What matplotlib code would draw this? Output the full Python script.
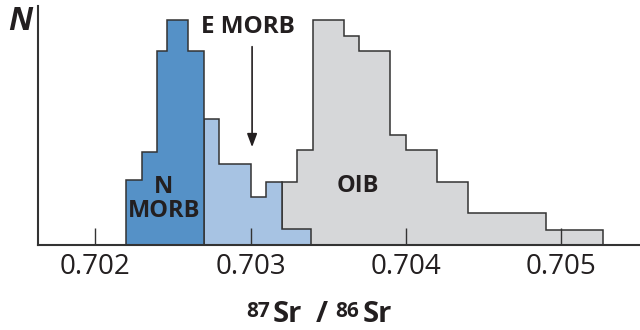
import matplotlib
matplotlib.use("Agg")
import matplotlib.pyplot as plt

# Histogram bin edges (87Sr/86Sr) and counts
nmorb_edges = [0.7022, 0.7023, 0.7024, 0.70246, 0.7026, 0.7027]
nmorb_counts = [4.1, 5.9, 12.3, 14.3, 12.3]
emorb_edges = [0.7027, 0.7028, 0.7030, 0.7031, 0.7032, 0.70339]
emorb_counts = [8.0, 5.1, 3.0, 4.0, 1.0]
oib_edges = [0.7032, 0.7033, 0.7034, 0.7036, 0.7037, 0.7039, 0.7040,
             0.7042, 0.7044, 0.7049, 0.70527]
oib_counts = [4.0, 6.0, 14.3, 13.3, 12.3, 7.0, 6.0, 4.0, 2.0, 0.9]
xticks = [0.702, 0.703, 0.704, 0.705]
xtick_labels = ["0.702", "0.703", "0.704", "0.705"]

plt.rcParams['font.family'] = ['Open Sans', 'DejaVu Sans']

W, H = 640, 330
fig = plt.figure(figsize=(6.4, 3.3), dpi=100)
ax = fig.add_axes([38/W, (H-244.5)/H, 1 - 38/W, (244.5-6)/H])

edge = '#333333'
txt = '#231F20'
ax.stairs(oib_counts, oib_edges, baseline=0, fill=True, facecolor='#D6D7D9')
ax.stairs(oib_counts, oib_edges, baseline=0, fill=False, color=edge, linewidth=1.1)
ax.stairs(emorb_counts, emorb_edges, baseline=0, fill=True, facecolor='#A7C3E3')
ax.stairs(emorb_counts, emorb_edges, baseline=0, fill=False, color=edge, linewidth=1.1)
ax.stairs(nmorb_counts, nmorb_edges, baseline=0, fill=True, facecolor='#5591C7')
ax.stairs(nmorb_counts, nmorb_edges, baseline=0, fill=False, color=edge, linewidth=1.1)

ax.set_xlim(0.701633, 0.705505)
ax.set_ylim(0, 238.5/15.7)

for s in ['top', 'right']:
    ax.spines[s].set_visible(False)
for s in ['left', 'bottom']:
    ax.spines[s].set_color('#333333')
    ax.spines[s].set_linewidth(1.5)

ax.set_xticks(xticks)
ax.set_xticklabels(xtick_labels)
ax.tick_params(axis='x', direction='in', length=12.5, width=1.0, color='#333333',
               labelsize=20, pad=6, labelcolor=txt)
ax.set_yticks([])

# x-axis label: 87Sr / 86Sr built from pieces
pieces = [("87", 258.5, 317, 15), ("Sr", 287, 322, 21), ("/", 321.5, 322, 21),
          ("86", 347, 317, 15), ("Sr", 377, 322, 21)]
for s, px, py, fs in pieces:
    fig.text(px/W, 1 - py/H, s, fontsize=fs, fontweight='bold', ha='center',
             va='baseline', color=txt)

fig.text(20/W, 1 - 21/H, 'N', fontsize=23, fontweight='bold', fontstyle='italic',
         ha='center', va='center', color=txt)

ax.text(0.702443, 2.9, 'N\nMORB', fontsize=17, fontweight='bold', ha='center',
        va='center', color=txt, linespacing=1.0)
ax.text(0.703688, 3.72, 'OIB', fontsize=17, fontweight='bold', ha='center',
        va='center', color=txt)
ax.text(0.702981, 13.84, 'E MORB', fontsize=17.5, fontweight='bold', ha='center',
        va='center', color=txt)
ax.annotate('', xy=(0.70301, 6.2), xytext=(0.70301, 12.6),
            arrowprops=dict(arrowstyle='-|>,head_length=0.8,head_width=0.3',
                            color=txt, lw=1.2, shrinkA=0, shrinkB=0))

fig.savefig('out.png', dpi=100)
